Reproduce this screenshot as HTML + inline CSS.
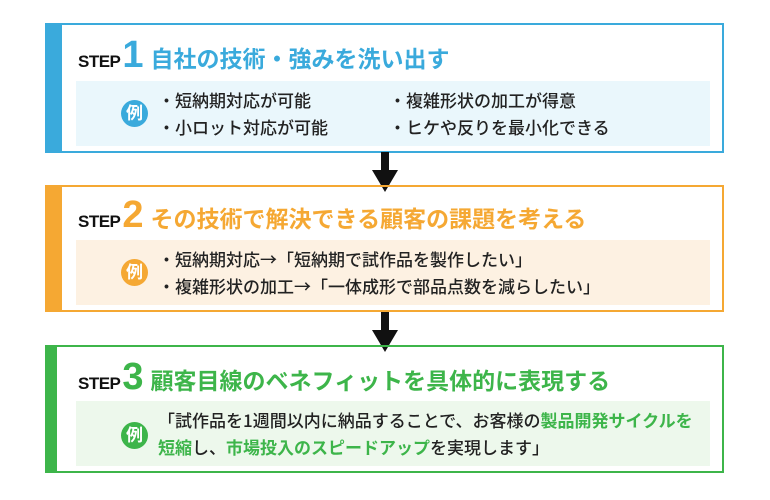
<!DOCTYPE html>
<html><head><meta charset="utf-8"><style>
*{margin:0;padding:0;box-sizing:border-box}
body{width:770px;height:500px;background:#fff;position:relative;font-family:"Liberation Sans","Noto Sans CJK JP",sans-serif;overflow:hidden}
.box{position:absolute;left:45px;width:679px;border:2px solid;}
.bar{position:absolute;left:-2px;top:-2px;bottom:-2px;width:17px}
.title{position:absolute;left:31px;font-weight:bold;white-space:nowrap}
.step{font-size:17px;color:#111;letter-spacing:-0.5px}
.num{font-size:38px;margin:0 7px 0 2px;display:inline-block}
.tt{font-size:23px;font-family:"Noto Sans CJK JP",sans-serif}
.panel{position:absolute;left:29px;right:12px}
.rei{position:absolute;left:45px;width:27px;height:27px;border-radius:50%;color:#fff;font-weight:bold;font-size:17px;text-align:center;line-height:27px}
.txt{position:absolute;font-size:17px;line-height:27px;color:#222;white-space:nowrap;font-family:"Noto Sans CJK JP",sans-serif;font-weight:500}
.arrow{position:absolute;left:372px;width:26px}
.arrow .s{position:absolute;left:9px;width:8px;background:#111}
.arrow .h{position:absolute;left:0;width:0;height:0;border-left:13px solid transparent;border-right:13px solid transparent;border-top:22px solid #111}
.g{color:#3db54a;font-weight:bold}
</style></head><body>

<div class="box" style="top:23px;height:130px;border-color:#3aaadc">
 <div class="bar" style="background:#3aaadc"></div>
 <div class="title" style="top:9px"><span class="step">STEP</span><span class="num" style="color:#3aaadc">1</span><span class="tt" style="color:#3aaadc">自社の技術・強みを洗い出す</span></div>
 <div class="panel" style="top:56px;height:65px;background:#eaf7fc">
  <div class="rei" style="top:19px;background:#3aaadc">例</div>
  <div class="txt" style="left:82px;top:5px">・短納期対応が可能<br>・小ロット対応が可能</div>
  <div class="txt" style="left:313px;top:5px">・複雑形状の加工が得意<br>・ヒケや反りを最小化できる</div>
 </div>
</div>

<div class="arrow" style="top:152px;height:40px"><div class="s" style="top:0;height:20px"></div><div class="h" style="top:18px"></div></div>

<div class="box" style="top:185px;height:127px;border-color:#f5a833">
 <div class="bar" style="background:#f5a833"></div>
 <div class="title" style="top:7px"><span class="step">STEP</span><span class="num" style="color:#f5a833">2</span><span class="tt" style="color:#f5a833">その技術で解決できる顧客の課題を考える</span></div>
 <div class="panel" style="top:53px;height:65px;background:#fdf1e2">
  <div class="rei" style="top:19px;background:#f5a833">例</div>
  <div class="txt" style="left:82px;top:5px">・短納期対応→「短納期で試作品を製作したい」<br>・複雑形状の加工→「一体成形で部品点数を減らしたい」</div>
 </div>
</div>

<div class="arrow" style="top:312px;height:40px"><div class="s" style="top:0;height:20px"></div><div class="h" style="top:18px"></div></div>

<div class="box" style="top:345px;height:128px;border-color:#3db54a">
 <div class="bar" style="background:#3db54a;width:12px"></div>
 <div class="title" style="top:9px"><span class="step">STEP</span><span class="num" style="color:#3db54a">3</span><span class="tt" style="color:#3db54a">顧客目線のベネフィットを具体的に表現する</span></div>
 <div class="panel" style="top:54px;height:65px;background:#edf8ec">
  <div class="rei" style="top:21px;background:#3db54a">例</div>
  <div class="txt" style="left:82px;top:5px">「試作品を1週間以内に納品することで、お客様の<span class="g">製品開発サイクルを</span><br><span class="g">短縮</span>し、<span class="g">市場投入のスピードアップ</span>を実現します」</div>
 </div>
</div>

</body></html>
